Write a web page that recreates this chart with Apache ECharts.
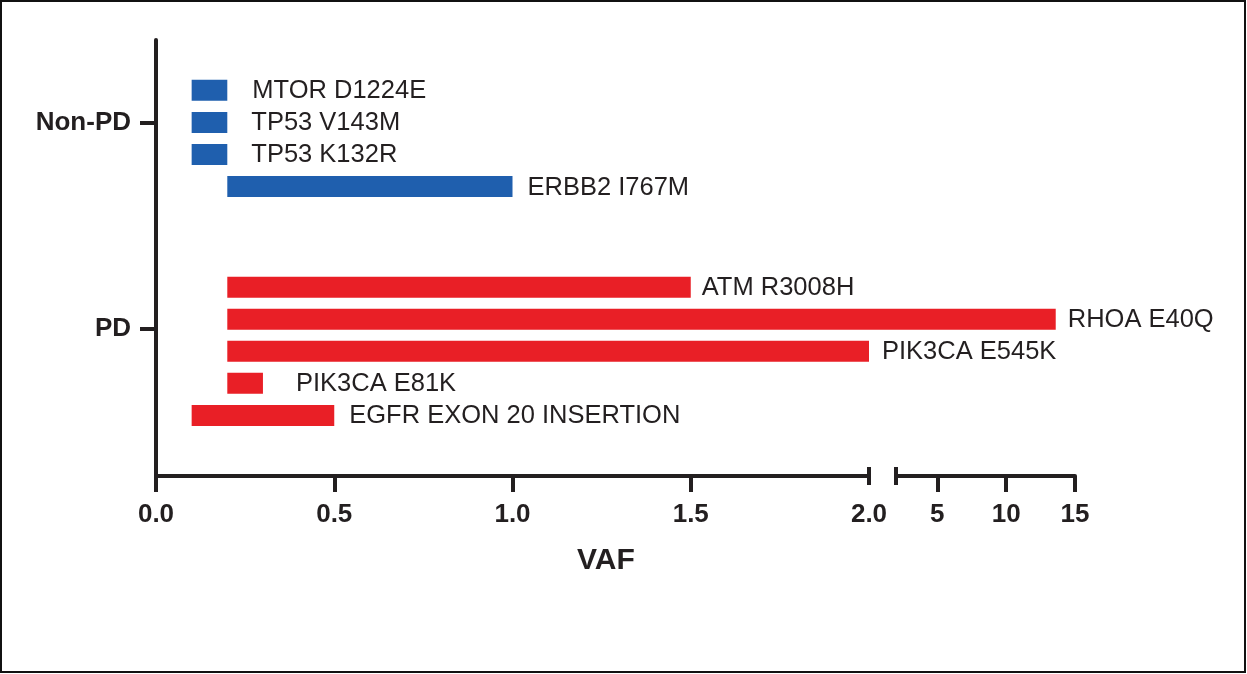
<!DOCTYPE html>
<html>
<head>
<meta charset="utf-8">
<title>VAF by variant</title>
<script src="https://cdn.jsdelivr.net/npm/echarts@6/dist/echarts.min.js"></script>
<style>
  html, body { margin: 0; padding: 0; background: #fff; }
  #chart { width: 1247px; height: 674px; }
</style>
</head>
<body>
<div id="chart"></div>
<script>
// Variants, their response group and the VAF span each one covers
const variants = ['MTOR D1224E', 'TP53 V143M', 'TP53 K132R', 'ERBB2 I767M',
                  'ATM R3008H', 'RHOA E40Q', 'PIK3CA E545K', 'PIK3CA E81K', 'EGFR EXON 20 INSERTION'];
const groupOf  = ['Non-PD', 'Non-PD', 'Non-PD', 'Non-PD', 'PD', 'PD', 'PD', 'PD', 'PD'];
const vafStart = [0.1, 0.1, 0.1, 0.2, 0.2, 0.2, 0.2, 0.2, 0.1];
const vafEnd   = [0.2, 0.2, 0.2, 1.0, 1.5, 13.6, 2.0, 0.3, 0.5];
const groups   = ['Non-PD', 'PD'];

// Broken x axis: a linear 0–2 segment and a compressed 2–15 segment
const lowTicks  = [0, 0.5, 1.0, 1.5, 2.0];
const highTicks = [5, 10, 15];
const BREAK_AT = 2;
const HIGH_MAX = 15;

// ---- layout ----
const GRID_TOP = 40, GRID_H = 436;
const GRID_A = { left: 156, width: 713 };
const GRID_B = { left: 896, width: 179 };
const Y_MIN = -1.57, Y_MAX = 12.03;          // row units, top to bottom
const groupRowStart = { 'Non-PD': 0, 'PD': 6.14 };
const groupTickRow  = [1.02, 7.45];
const labelGap = [25, 24, 24, 15, 11, 12, 13, 33, 15];
const BAR_ROWS = 0.655;                       // bar thickness in row units

const INK = '#231f20';
const FONT = '"Liberation Sans", Arial, Helvetica, sans-serif';
const colorOf = { 'Non-PD': '#1f5fae', 'PD': '#e91f26' };

// row position of every bar: group start plus its order inside the group
const rowPos = [];
const seen = {};
variants.forEach((v, i) => {
  const g = groupOf[i];
  seen[g] = (seen[g] || 0);
  rowPos.push(groupRowStart[g] + seen[g]);
  seen[g] += 1;
});

function makeRenderer(isLow) {
  return function (params, api) {
    const i = api.value(3);
    const s = api.value(0), e = api.value(1), r = api.value(2);
    const p0 = api.coord([s, r]);
    const p1 = api.coord([e, r]);
    const h = api.size([0, BAR_ROWS])[1];
    let x0 = p0[0], x1 = p1[0];
    const children = [];
    if (isLow && vafEnd[i] > BREAK_AT) {
      // bar runs on through the axis break into the high segment
      x1 = GRID_B.left;
    }
    children.push({
      type: 'rect',
      shape: { x: x0, y: p0[1] - h / 2, width: x1 - x0, height: h },
      style: { fill: colorOf[groupOf[i]] }
    });
    const drawLabel = isLow ? vafEnd[i] <= BREAK_AT : true;
    if (drawLabel) {
      children.push({
        type: 'text',
        x: p1[0] + labelGap[i],
        y: p0[1] + 1,
        style: {
          text: variants[i],
          fill: INK,
          fontFamily: FONT,
          fontSize: 25.5,
          align: 'left',
          verticalAlign: 'middle'
        }
      });
    }
    return { type: 'group', children };
  };
}

const lowData = variants.map((v, i) =>
  [vafStart[i], Math.min(vafEnd[i], BREAK_AT), rowPos[i], i]);
const highData = variants
  .map((v, i) => [Math.max(vafStart[i], BREAK_AT), vafEnd[i], rowPos[i], i])
  .filter(d => vafEnd[d[3]] > BREAK_AT);

const axisLineStyle = { color: INK, width: 4 };
const tickLabelStyle = { color: INK, fontFamily: FONT, fontSize: 26, fontWeight: 'bold', margin: 26 };

function capAxis(gridIndex, min, max, inside) {
  return {
    type: 'value', gridIndex, min, max, position: 'bottom',
    axisLine: { show: false, onZero: false },
    axisLabel: { show: false },
    splitLine: { show: false },
    axisTick: { show: true, customValues: [BREAK_AT], inside, length: 9, lineStyle: axisLineStyle }
  };
}

const chart = echarts.init(document.getElementById('chart'), null, { renderer: 'canvas' });

chart.setOption({
  animation: false,
  backgroundColor: '#fff',
  grid: [
    { left: GRID_A.left, width: GRID_A.width, top: GRID_TOP, height: GRID_H },
    { left: GRID_B.left, width: GRID_B.width, top: GRID_TOP, height: GRID_H }
  ],
  xAxis: [
    {
      type: 'value', gridIndex: 0, min: 0, max: BREAK_AT, position: 'bottom',
      axisLine: { show: true, onZero: false, lineStyle: axisLineStyle },
      axisTick: { show: true, customValues: lowTicks.slice(0, -1), length: 16, lineStyle: axisLineStyle },
      axisLabel: Object.assign({ customValues: lowTicks, formatter: v => v.toFixed(1) }, tickLabelStyle),
      splitLine: { show: false }
    },
    capAxis(0, 0, BREAK_AT, true),
    capAxis(0, 0, BREAK_AT, false),
    {
      type: 'value', gridIndex: 1, min: BREAK_AT, max: HIGH_MAX, position: 'bottom',
      axisLine: { show: true, onZero: false, lineStyle: axisLineStyle },
      axisTick: { show: true, customValues: highTicks, length: 16, lineStyle: axisLineStyle },
      axisLabel: Object.assign({ customValues: highTicks, formatter: v => String(v) }, tickLabelStyle),
      splitLine: { show: false }
    },
    capAxis(1, BREAK_AT, HIGH_MAX, true),
    capAxis(1, BREAK_AT, HIGH_MAX, false)
  ],
  yAxis: [
    {
      type: 'value', gridIndex: 0, inverse: true, min: Y_MIN, max: Y_MAX,
      axisLine: { show: true, onZero: false, lineStyle: axisLineStyle },
      axisTick: { show: true, customValues: groupTickRow, length: 16, lineStyle: axisLineStyle },
      axisLabel: {
        customValues: groupTickRow,
        formatter: v => groups[groupTickRow.indexOf(v)] || '',
        color: INK, fontFamily: FONT, fontSize: 26, fontWeight: 'bold', margin: 25
      },
      splitLine: { show: false }
    },
    {
      type: 'value', gridIndex: 1, inverse: true, min: Y_MIN, max: Y_MAX, show: false,
      splitLine: { show: false }
    }
  ],
  series: [
    {
      type: 'custom', name: 'low', xAxisIndex: 0, yAxisIndex: 0, clip: false,
      encode: { x: [0, 1], y: 2 },
      renderItem: makeRenderer(true),
      data: lowData
    },
    {
      type: 'custom', name: 'high', xAxisIndex: 3, yAxisIndex: 1, clip: false,
      encode: { x: [0, 1], y: 2 },
      renderItem: makeRenderer(false),
      data: highData
    }
  ],
  graphic: [
    {
      type: 'text', left: 577, top: 546,
      style: { text: 'VAF', fill: INK, fontFamily: FONT, fontSize: 30, fontWeight: 'bold' }
    },
    {
      type: 'rect', silent: true, z: 100,
      shape: { x: 1, y: 1, width: 1244, height: 671 },
      style: { fill: 'none', stroke: '#111', lineWidth: 2 }
    }
  ]
});
</script>
</body>
</html>
